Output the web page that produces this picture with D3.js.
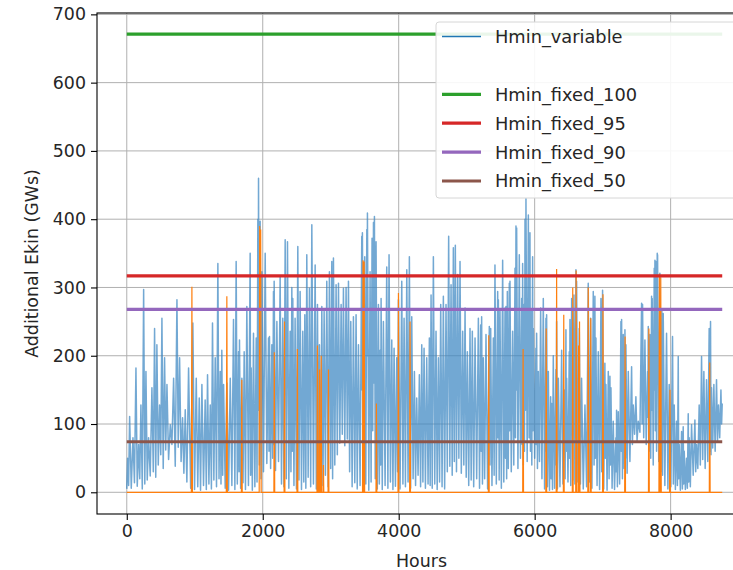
<!DOCTYPE html>
<html><head><meta charset="utf-8">
<script src="https://cdn.jsdelivr.net/npm/d3@7"></script>
<style>
html,body{margin:0;padding:0;background:#fff;overflow:hidden}
svg{display:block;font-family:"DejaVu Sans",sans-serif}
</style></head>
<body><svg id="chart" width="733" height="570"></svg>
<script>
// ---------------- data ----------------
const xTicks = [0, 2000, 4000, 6000, 8000];
const yTicks = [0, 100, 200, 300, 400, 500, 600, 700];
const xLabel = "Hours";
const yLabel = "Additional Ekin (GWs)";
const hourRange = [0, 8759];

// Hmin_variable: [hour, GWs] — peaks and troughs of the hourly series
const hminVariable = [
[0,5],[12,50],[27,10],[42,111],[66,6],[91,80],[113,14],[135,182],[154,9],[174,70],[191,20],[208,128],[228,5],[248,297],[265,12],[282,177],[301,18],[321,80],[345,24],[370,153],[390,30],[409,240],[426,22],[443,216],[463,40],[483,128],[500,55],[517,255],[536,35],[556,197],[573,62],[591,158],[615,48],[640,99],[664,70],[689,167],[713,38],[738,282],[757,66],[777,197],[799,45],[821,109],[840,28],[860,121],[884,15],[909,182],[940,6],[972,248],[997,4],[1022,167],[1044,8],[1066,138],[1085,3],[1105,158],[1129,10],[1153,135],[1170,4],[1188,172],[1208,12],[1228,128],[1245,5],[1261,248],[1281,18],[1301,197],[1320,8],[1340,335],[1357,20],[1375,177],[1386,12],[1398,208],[1411,25],[1424,158],[1448,6],[1472,160],[1497,3],[1522,167],[1546,10],[1570,253],[1590,4],[1609,338],[1626,12],[1644,206],[1651,30],[1658,223],[1675,6],[1693,167],[1710,14],[1727,206],[1746,4],[1766,272],[1790,10],[1815,350],[1822,25],[1830,182],[1847,3],[1864,233],[1884,8],[1904,226],[1916,15],[1928,400],[1933,120],[1938,460],[1950,40],[1962,397],[1975,20],[1987,323],[2011,30],[2036,350],[2060,42],[2085,226],[2092,60],[2099,228],[2116,35],[2134,216],[2146,50],[2158,294],[2163,70],[2168,309],[2188,32],[2208,250],[2232,45],[2256,316],
[2276,12],[2295,255],[2312,8],[2330,370],[2347,20],[2364,367],[2384,6],[2403,236],[2415,30],[2428,300],[2435,60],[2442,284],[2459,10],[2476,255],[2496,5],[2516,360],[2533,18],[2550,294],[2570,4],[2589,236],[2604,15],[2619,260],[2634,6],[2648,348],[2668,22],[2687,299],[2705,8],[2722,392],[2746,12],[2771,333],[2788,5],[2805,275],[2820,18],[2834,216],[2852,4],[2869,272],[2886,10],[2903,265],[2922,25],[2942,309],[2962,8],[2981,323],[2999,35],[3016,338],[3028,20],[3040,343],[3060,40],[3079,304],[3097,55],[3114,306],[3134,72],[3153,275],[3170,85],[3187,299],[3207,68],[3226,300],[3244,78],[3261,309],[3278,30],[3295,250],[3315,8],[3334,257],[3354,14],[3373,260],[3390,5],[3408,216],[3432,10],[3457,375],[3462,150],[3466,380],[3484,6],[3501,345],[3516,12],[3531,385],[3536,200],[3540,409],[3560,3],[3579,323],[3594,15],[3608,372],[3618,90],[3629,395],[3636,160],[3643,404],[3655,20],[3667,367],[3685,5],[3702,275],[3715,12],[3727,208],[3734,40],[3741,284],[3758,4],[3775,250],[3800,10],[3824,330],[3841,6],[3858,348],[3878,15],[3898,223],[3915,4],[3932,211],[3952,9],[3971,197],[3984,30],[3996,282],[4020,5],[4045,309],[4062,12],[4079,255],[4099,8],[4119,326],[4138,15],[4157,345],[4175,6],[4192,257],[4212,20],[4231,177],[4248,10],[4265,138],[4285,25],[4304,172],[4322,8],[4339,216],[4356,15],[4373,211],[4393,6],[4412,197],[4432,12],[4451,226],
[4463,10],[4476,289],[4493,6],[4510,345],[4530,12],[4549,236],[4566,4],[4584,197],[4601,15],[4618,275],[4638,8],[4657,287],[4676,5],[4696,275],[4715,30],[4735,375],[4752,38],[4770,304],[4787,25],[4804,358],[4818,45],[4833,362],[4850,30],[4868,319],[4885,50],[4902,338],[4921,28],[4941,236],[4958,40],[4976,270],[4993,22],[5010,206],[5030,10],[5049,240],[5066,18],[5083,236],[5103,8],[5123,226],[5147,20],[5172,255],[5189,6],[5206,245],[5213,60],[5220,257],[5232,12],[5245,197],[5264,20],[5284,231],[5308,5],[5333,243],[5343,40],[5353,240],[5372,10],[5392,226],[5404,25],[5416,333],[5436,12],[5456,294],[5461,80],[5466,282],[5478,18],[5490,265],[5510,6],[5529,340],[5546,15],[5564,270],[5571,50],[5578,272],[5588,20],[5598,294],[5612,35],[5627,306],[5632,90],[5637,309],[5656,30],[5676,236],[5693,40],[5711,328],[5718,80],[5725,390],[5730,150],[5735,387],[5754,35],[5774,348],[5791,50],[5809,284],[5816,70],[5823,335],[5833,40],[5843,275],[5850,60],[5858,400],[5865,120],[5872,430],[5890,45],[5907,406],[5919,80],[5931,380],[5938,60],[5946,265],[5958,40],[5970,345],[5975,90],[5980,240],[6000,50],[6019,211],[6024,70],[6029,233],[6041,35],[6054,177],[6071,45],[6088,270],[6107,20],[6127,284],[6146,5],[6166,255],[6171,60],[6176,260],[6188,8],[6201,177],[6218,3],[6235,140],[6242,20],[6250,130],[6262,4],[6274,200],[6293,6],[6313,180],[6318,40],[6323,250],[6335,5],[6348,167],[6372,8],[6397,208],[6416,12],[6436,150],[6448,20],[6460,238],[6465,60],[6470,167],[6490,15],[6509,206],[6514,50],[6519,253],[6531,10],[6544,284],[6561,18],[6578,289],[6592,12],[6607,326],[6612,80],[6617,309],[6636,15],[6656,240],
[6673,12],[6690,167],[6715,5],[6740,128],[6764,8],[6788,306],[6805,15],[6823,255],[6842,6],[6862,294],[6874,40],[6886,287],[6893,50],[6901,226],[6918,10],[6936,206],[6955,4],[6975,284],[6987,30],[6999,296],[7016,5],[7033,189],[7040,50],[7048,158],[7065,3],[7083,177],[7095,20],[7107,170],[7114,40],[7122,153],[7139,6],[7156,104],[7175,4],[7195,80],[7200,30],[7205,120],[7217,8],[7230,118],[7250,12],[7269,250],[7274,60],[7279,253],[7291,20],[7303,231],[7315,35],[7328,238],[7335,50],[7342,216],[7360,28],[7377,177],[7401,45],[7426,184],[7438,70],[7450,128],[7470,85],[7489,140],[7506,75],[7524,104],[7548,88],[7573,277],[7580,100],[7587,275],[7604,80],[7622,223],[7641,70],[7661,177],[7666,110],[7671,243],[7683,60],[7695,231],[7707,50],[7720,287],[7724,120],[7729,284],[7744,40],[7759,328],[7764,150],[7769,340],[7776,90],[7783,338],[7793,60],[7803,350],[7805,200],[7808,348],[7825,45],[7842,321],[7856,30],[7871,265],[7881,25],[7891,262],[7915,10],[7940,233],[7960,5],[7979,158],[8003,8],[8028,228],[8040,12],[8053,128],[8070,4],[8087,104],[8100,10],[8112,199],[8119,20],[8126,70],[8143,3],[8161,89],[8173,5],[8185,96],[8192,12],[8200,60],[8217,4],[8234,50],[8246,6],[8259,115],[8266,15],[8273,80],[8290,8],[8308,99],[8332,25],[8357,106],[8369,30],[8381,70],[8400,35],[8420,128],[8437,40],[8455,199],[8472,48],[8489,177],[8508,35],[8528,165],[8547,45],[8567,240],[8577,60],[8587,250],[8594,55],[8602,153],[8619,65],[8636,158],[8655,60],[8675,165],[8690,75],[8704,128],[8722,80],[8740,150],[8750,100],[8759,130]
];

// second (unlabelled, orange) series: zero except for short spikes
const hminOrange = [
[0,0],[950,0],[958,301],[966,0],[1464,0],[1472,287],[1480,0],[1686,0],[1692,165],[1698,0],[1948,0],[1955,390],[1962,370],[1970,385],[1977,0],[2164,0],[2170,205],[2176,0],[2314,0],[2320,250],[2326,0],[2504,0],[2510,210],[2516,0],[2798,0],[2805,215],[2812,0],[2828,0],[2835,180],[2842,0],[2854,0],[2860,200],[2866,0],[2888,0],[2893,40],[2898,0],[2961,0],[2967,180],[2973,0],[3468,0],[3475,340],[3483,0],[3486,0],[3492,338],[3499,0],[3666,0],[3672,130],[3678,0],[3990,0],[3996,292],[4002,0],[4161,0],[4167,250],[4173,0],[5319,0],[5325,230],[5331,0],[5824,0],[5830,210],[5836,0],[6164,0],[6170,240],[6176,0],[6317,0],[6323,327],[6329,0],[6422,0],[6428,260],[6434,0],[6554,0],[6560,300],[6566,0],[6604,0],[6610,325],[6616,0],[6639,0],[6645,215],[6651,0],[6654,0],[6660,250],[6666,0],[6782,0],[6788,300],[6794,0],[6819,0],[6825,255],[6831,0],[6999,0],[7005,290],[7011,0],[7324,0],[7330,228],[7336,0],[7674,0],[7680,240],[7686,0],[7828,0],[7835,320],[7842,0],[7848,0],[7855,315],[7862,0],[7984,0],[7990,150],[7996,0],[8569,0],[8575,190],[8581,0],[8759,0]
];

const fixedNames  = ["Hmin_fixed_100", "Hmin_fixed_95", "Hmin_fixed_90", "Hmin_fixed_50"];
const fixedValues = [671, 317, 268, 74];
const fixedColors = ["#2ca02c", "#d62728", "#9467bd", "#8c564b"];

// ---------------- drawing ----------------
const svg = d3.select("#chart");
const L = 97, R = 752, T = 13, B = 514;
const x = d3.scaleLinear().domain([-438, 9197]).range([L, R]);
const y = d3.scaleLinear().domain([-31.8, 702]).range([B, T]);
const FS = 17.4;

const clipId = "plotclip";
svg.append("defs").append("clipPath").attr("id", clipId)
  .append("rect").attr("x", L).attr("y", T).attr("width", R - L).attr("height", B - T);

// grid
const grid = svg.append("g");
grid.selectAll(".gx").data(xTicks).join("line")
  .attr("x1", d => x(d)).attr("x2", d => x(d)).attr("y1", T).attr("y2", B)
  .attr("stroke", "#b0b0b0").attr("stroke-width", 1);
grid.selectAll(".gy").data(yTicks).join("line")
  .attr("x1", L).attr("x2", R).attr("y1", d => y(d)).attr("y2", d => y(d))
  .attr("stroke", "#b0b0b0").attr("stroke-width", 1);

const plot = svg.append("g").attr("clip-path", `url(#${clipId})`);
const line = d3.line().x(d => x(d[0])).y(d => y(d[1]));

plot.append("path").datum(hminVariable).attr("d", line)
  .attr("fill", "none").attr("stroke", "#3b86c2").attr("stroke-width", 1.5)
  .attr("stroke-opacity", 0.72).attr("stroke-linejoin", "round");
plot.append("path").datum(hminOrange).attr("d", line)
  .attr("fill", "none").attr("stroke", "#ff7f0e").attr("stroke-width", 1.2);

fixedValues.forEach((v, i) => {
  plot.append("path").datum(hourRange.map(h => [h, v])).attr("d", line)
    .attr("fill", "none").attr("stroke", fixedColors[i]).attr("stroke-width", 3.2);
});

// axes
const xAxis = svg.append("g").attr("transform", `translate(0,${B})`)
  .call(d3.axisBottom(x).tickValues(xTicks).tickSize(6).tickPadding(5).tickFormat(d3.format("d")));
const yAxis = svg.append("g").attr("transform", `translate(${L},0)`)
  .call(d3.axisLeft(y).tickValues(yTicks).tickSize(6).tickPadding(5).tickFormat(d3.format("d")));
[xAxis, yAxis].forEach(a => {
  a.select(".domain").remove();
  a.selectAll("line").attr("stroke", "#000").attr("stroke-width", 1.1);
  a.selectAll("text").attr("font-size", FS).attr("fill", "#262626").attr("font-family", "DejaVu Sans");
});

// frame
svg.append("rect").attr("x", L).attr("y", T).attr("width", R - L).attr("height", B - T)
  .attr("fill", "none").attr("stroke", "#000").attr("stroke-width", 1.1);

svg.append("text").attr("x", (L + R) / 2 - 3).attr("y", 567).attr("text-anchor", "middle")
  .attr("font-size", FS).attr("fill", "#262626").text(xLabel);
svg.append("text").attr("transform", `translate(38,${(T + B) / 2}) rotate(-90)`)
  .attr("text-anchor", "middle").attr("font-size", FS).attr("fill", "#262626").text(yLabel);

// legend
const lg = svg.append("g");
lg.append("rect").attr("x", 436).attr("y", 22).attr("width", 330).attr("height", 176)
  .attr("rx", 3).attr("fill", "#fff").attr("fill-opacity", 0.9)
  .attr("stroke", "#d6d6d6").attr("stroke-width", 1);
const legendItems = [
  { name: "Hmin_variable", color: "#1f77b4", w: 1.6 },
  { name: "", color: null, w: 0 },
  ...fixedNames.map((n, i) => ({ name: n, color: fixedColors[i], w: 3.2 }))
];
const rowY = d3.scaleLinear().domain([0, 5]).range([36.5, 181]);
legendItems.forEach((d, i) => {
  const cy = rowY(i);
  if (d.color) lg.append("line").attr("x1", 442).attr("x2", 481).attr("y1", cy).attr("y2", cy)
    .attr("stroke", d.color).attr("stroke-width", d.w);
  lg.append("text").attr("x", 495).attr("y", cy).attr("dy", "0.36em")
    .attr("font-size", 17.8).attr("fill", "#262626").text(d.name);
});
</script></body></html>
